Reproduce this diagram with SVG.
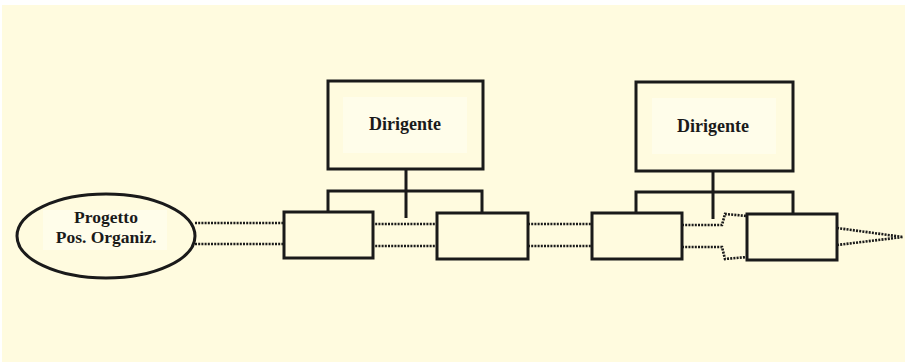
<svg xmlns="http://www.w3.org/2000/svg" width="905" height="362" viewBox="0 0 905 362">
  <style>
    .box { fill: none; stroke: #1a1a1a; stroke-width: 3; }
    .pad { fill: #fffdea; }
    .link { fill: none; stroke: #1a1a1a; stroke-width: 3; }
    .flow { fill: none; stroke: #1a1a1a; stroke-width: 2.6; stroke-dasharray: 2 1.2; }
    .lbl { font-family: "Liberation Serif", "Times New Roman", serif; font-weight: bold; fill: #1a1a1a; text-anchor: middle; }
  </style>

  <!-- page background -->
  <rect x="0" y="0" width="905" height="362" fill="#ffffff"/>
  <rect x="2" y="5" width="903" height="357" fill="#fffbdf"/>

  <!-- flow lines and org links -->
  <g id="connectors">
    <!-- dotted flow: project to first unit -->
    <path class="flow" d="M195 223 H285 M195 244 H285"/>
    <!-- dotted flow between units -->
    <path class="flow" d="M372 224 H437 M372 246 H437"/>
    <path class="flow" d="M528 224 H592 M528 246 H592"/>
    <!-- widening arrow into the last unit -->
    <path class="flow" d="M682 225 H722 L725 214 L747 216 M682 247 H722 L725 259 L747 257"/>
    <!-- converging tip after the last unit -->
    <path class="flow" d="M837 228 L903 237 M837 245 L903 237"/>

    <!-- reporting lines, first manager -->
    <path class="link" d="M406 169 V218 M328 213 V191 H482 V213"/>
    <!-- reporting lines, second manager -->
    <path class="link" d="M713 171 V219 M636 213 V192 H793 V214"/>
  </g>

  <g id="progetto">
    <ellipse cx="106" cy="236" rx="89" ry="42" fill="#fffbdf" stroke="#1a1a1a" stroke-width="3"/>
    <rect class="pad" x="43" y="210" width="124" height="40"/>
    <text class="lbl" x="106" y="223" font-size="17.5">Progetto</text>
    <text class="lbl" x="106" y="243" font-size="17.5">Pos. Organiz.</text>
  </g>

  <g id="dirigente-1">
    <rect class="pad" x="343" y="97" width="124" height="56"/>
    <rect class="box" x="328" y="81" width="155" height="88"/>
    <text class="lbl" x="405" y="130" font-size="18">Dirigente</text>
  </g>

  <g id="dirigente-2">
    <rect class="pad" x="652" y="98" width="124" height="56"/>
    <rect class="box" x="636" y="82" width="157" height="89"/>
    <text class="lbl" x="713" y="132" font-size="18">Dirigente</text>
  </g>

  <g id="unita-1"><rect class="box" x="284" y="212" width="89" height="46"/></g>
  <g id="unita-2"><rect class="box" x="437" y="213" width="91" height="46"/></g>
  <g id="unita-3"><rect class="box" x="592" y="213" width="90" height="46"/></g>
  <g id="unita-4"><rect class="box" x="747" y="214" width="90" height="46"/></g>
</svg>
